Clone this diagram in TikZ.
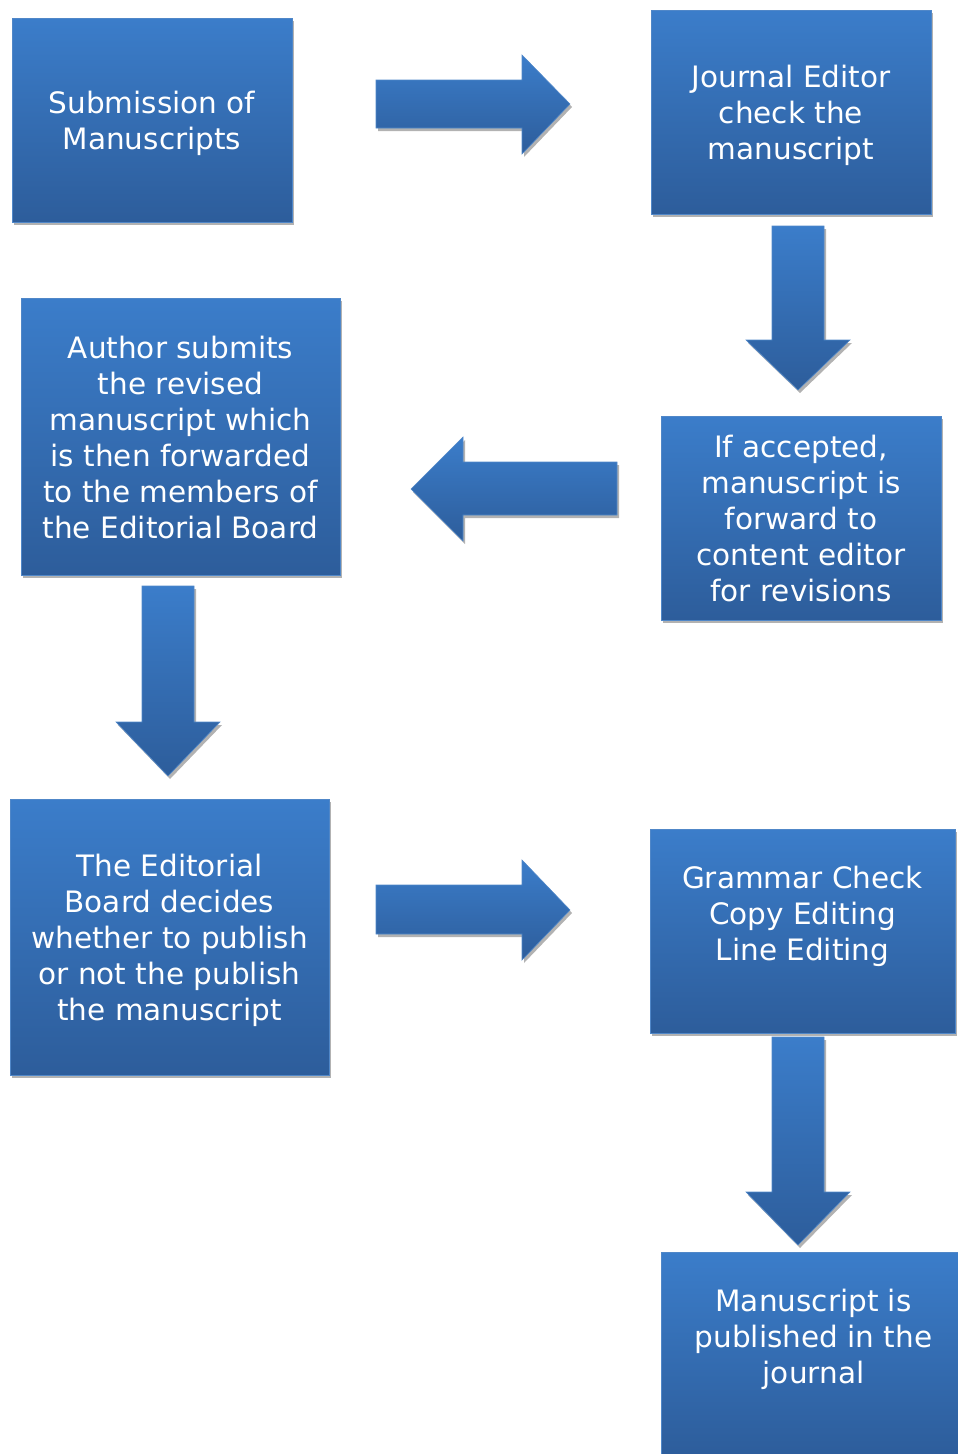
\documentclass[tikz,border=0pt]{standalone}
\usepackage{fontspec}
\setmainfont{DejaVu Sans}
\usetikzlibrary{shadows}
\definecolor{stepTop}{RGB}{59,125,202}
\definecolor{stepBottom}{RGB}{45,93,155}
\definecolor{stepEdge}{RGB}{80,135,200}
\tikzset{
  stepbox/.style={draw=stepEdge, line width=0.8pt, top color=stepTop, bottom color=stepBottom,
    inner sep=0pt, minimum width=280pt, minimum height=204pt,
    drop shadow={shadow xshift=2pt, shadow yshift=-3pt, opacity=0.3, fill=black}},
  steptext/.style={text=white, align=center, inner sep=0pt, yshift=-4.5pt,
    font=\fontsize{29.5}{36}\selectfont},
  blockarrow/.style={draw=stepEdge, line width=0.6pt, top color=stepTop, bottom color=stepBottom,
    drop shadow={shadow xshift=2pt, shadow yshift=-3pt, opacity=0.3, fill=black}}
}
\begin{document}
\begin{tikzpicture}[x=1pt, y=-1pt]
  \useasboundingbox (0,0) rectangle (958,1454);
  % Boxes of the process
  \node[stepbox, label={[steptext]center:\strut Submission of\\Manuscripts\strut}] (submit) at (152,120) {};
  \node[stepbox, label={[steptext]center:\strut Journal Editor\\check the\\manuscript\strut}] (check) at (791,112) {};
  \node[stepbox, minimum width=319pt, minimum height=277pt,
    label={[steptext]center:\strut Author submits\\the revised\\manuscript which\\is then forwarded\\to the members of\\the Editorial Board\strut}]
    (revise) at (180.5,436.5) {};
  \node[stepbox, label={[steptext]center:\strut If accepted,\\manuscript is\\forward to\\content editor\\for revisions\strut}]
    (accept) at (801,518) {};
  \node[stepbox, minimum width=319pt, minimum height=276pt,
    label={[steptext]center:\strut The Editorial\\Board decides\\whether to publish\\or not the publish\\the manuscript\strut}]
    (board) at (169.5,937) {};
  \node[stepbox, minimum width=305pt,
    label={[steptext]center:\strut Grammar Check\\Copy Editing\\Line Editing\\\strut}] (grammar) at (802.5,931) {};
  \node[stepbox, minimum width=305pt,
    label={[steptext]center:\strut Manuscript is\\published in the\\journal\\\strut}] (publish) at (813.5,1354) {};
  % Block arrows between the steps
  \path[blockarrow] (376,80) -- (522,80) -- (522,55) -- (570,104) -- (522,154) -- (522,128) -- (376,128) -- cycle;
  \path[blockarrow] (772,226) -- (824,226) -- (824,340) -- (850,340) -- (798,390) -- (746,340) -- (772,340) -- cycle;
  \path[blockarrow] (617,462) -- (463,462) -- (463,437) -- (411,489) -- (463,541) -- (463,515) -- (617,515) -- cycle;
  \path[blockarrow] (142,586) -- (194,586) -- (194,722) -- (220,722) -- (168,776) -- (116,722) -- (142,722) -- cycle;
  \path[blockarrow] (376,885) -- (522,885) -- (522,860) -- (570,910) -- (522,960) -- (522,934) -- (376,934) -- cycle;
  \path[blockarrow] (772,1037) -- (824,1037) -- (824,1192) -- (850,1192) -- (798,1245) -- (746,1192) -- (772,1192) -- cycle;
\end{tikzpicture}
\end{document}
